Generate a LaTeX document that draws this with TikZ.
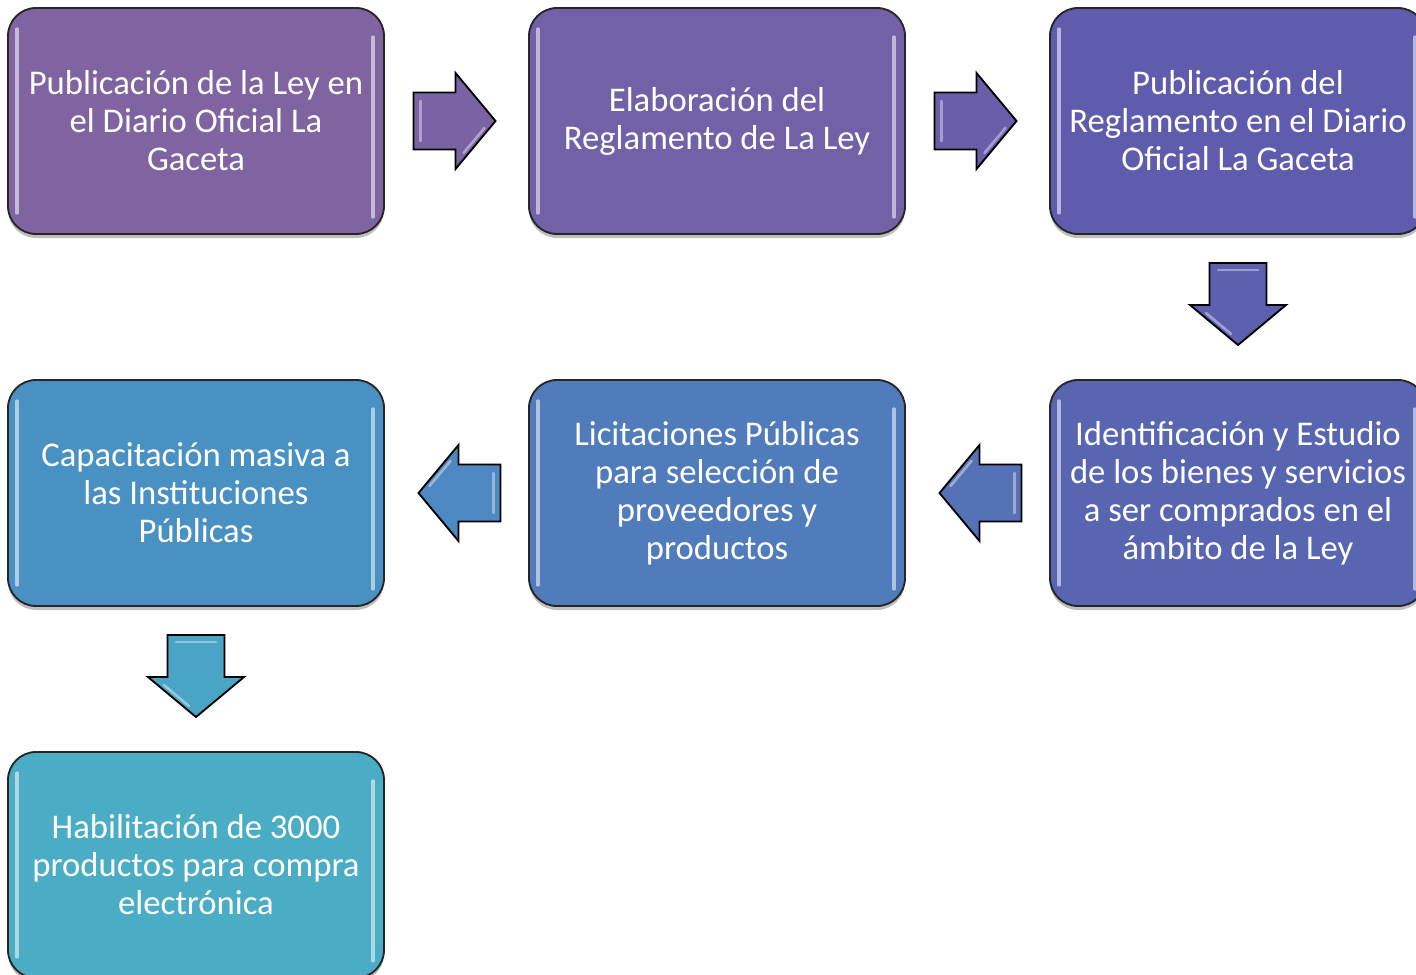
\documentclass[tikz,border=0pt]{standalone}
\usepackage{fontspec}
\setmainfont{Carlito}
\usetikzlibrary{calc,shadows}
\definecolor{cA}{HTML}{8064A2}
\definecolor{cB}{HTML}{7361A8}
\definecolor{cC}{HTML}{5F5BAD}
\definecolor{cF}{HTML}{5866B1}
\definecolor{cE}{HTML}{517CBB}
\definecolor{cD}{HTML}{4A91C3}
\definecolor{cG}{HTML}{4BACC6}
\definecolor{aA}{HTML}{7A63A5}
\definecolor{aB}{HTML}{6A5EAB}
\definecolor{aC}{HTML}{5D5FAF}
\definecolor{aD}{HTML}{5572B7}
\definecolor{aE}{HTML}{4D88C0}
\definecolor{aF}{HTML}{4AA4C5}
\tikzset{
  stepbox/.style={draw=black!85, line width=1.4pt, rounded corners=21pt,
    minimum width=282pt, minimum height=169.5pt, inner sep=0pt,
    text=white, align=center, font=\fontsize{26}{28.5}\selectfont,
    drop shadow={shadow xshift=0pt, shadow yshift=-3pt, opacity=0.25, fill=black}},
  shine/.style={line width=2.6pt, white, opacity=0.55, line cap=round},
  arrowstyle/.style={draw=black, line width=1.4pt, line join=miter},
  bevel/.style={white, opacity=0.4, line width=2pt, line cap=round},
  pics/blockarrow/.style={code={
    \draw[arrowstyle, fill=#1] (-41,-28.5) -- (1,-28.5) -- (1,-48) -- (41,0)
      -- (1,48) -- (1,28.5) -- (-41,28.5) -- cycle;
    \draw[bevel] (-34,-20) -- (-34,20);
    \draw[bevel] (9,32) -- (30,7);
  }}
}
\newcommand{\shinebox}[1]{%
  \draw[shine] ($(#1.north west)+(10,22)$) -- ($(#1.south west)+(10,-22)$);
  \draw[shine] ($(#1.north east)+(-12,30)$) -- ($(#1.south east)+(-12,-18)$);
}
\begin{document}
\begin{tikzpicture}[x=0.75pt,y=-0.75pt]
\useasboundingbox (0,0) rectangle (1416,974);
\node[stepbox, fill=cA] (b1) at (196,121) {Publicación de la Ley en\\el Diario Oficial La\\Gaceta};
\node[stepbox, fill=cB] (b2) at (717,121) {Elaboración del\\Reglamento de La Ley};
\node[stepbox, fill=cC] (b3) at (1238,121) {Publicación del\\Reglamento en el Diario\\Oficial La Gaceta};
\node[stepbox, fill=cF] (b6) at (1238,493) {Identificación y Estudio\\de los bienes y servicios\\a ser comprados en el\\ámbito de la Ley};
\node[stepbox, fill=cE] (b5) at (717,493) {Licitaciones Públicas\\para selección de\\proveedores y\\productos};
\node[stepbox, fill=cD] (b4) at (196,493) {Capacitación masiva a\\las Instituciones\\Públicas};
\node[stepbox, fill=cG] (b7) at (196,865) {Habilitación de 3000\\productos para compra\\electrónica};
\foreach \b in {b1,b2,b3,b4,b5,b6,b7}{\shinebox{\b}}
% block arrows between steps
\path ($(b1.east)!0.5!(b2.west)$) coordinate (a1);
\path ($(b2.east)!0.5!(b3.west)$) coordinate (a2);
\path ($(b3.south)!0.5!(b6.north)$) coordinate (a3);
\path ($(b6.west)!0.5!(b5.east)$) coordinate (a4);
\path ($(b5.west)!0.5!(b4.east)$) coordinate (a5);
\path ($(b4.south)!0.5!(b7.north)$) coordinate (a6);
\pic at ($(a1)+(-2,0)$) {blockarrow=aA};
\pic at ($(a2)+(-2,0)$) {blockarrow=aB};
\pic[rotate=-90] at ($(a3)+(0,-3)$) {blockarrow=aC};
\pic[rotate=180] at ($(a4)+(3,0)$) {blockarrow=aD};
\pic[rotate=180] at ($(a5)+(3,0)$) {blockarrow=aE};
\pic[rotate=-90] at ($(a6)+(0,-3)$) {blockarrow=aF};
\end{tikzpicture}
\end{document}
